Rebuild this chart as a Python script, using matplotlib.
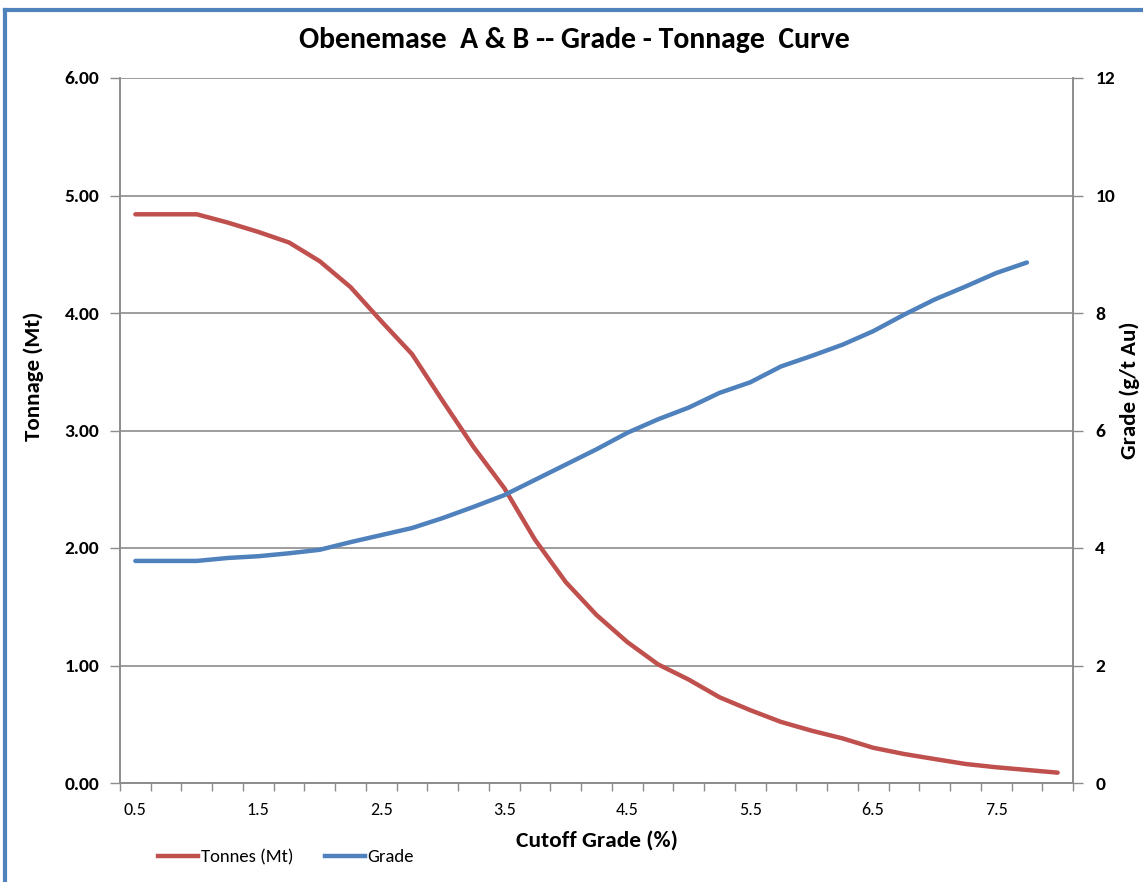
import numpy as np
import matplotlib

matplotlib.use('Agg')
import matplotlib.pyplot as plt
from matplotlib.lines import Line2D

plt.rcParams['font.family'] = ['Carlito', 'DejaVu Sans']

# ================= data =================
cutoff = [0.5, 0.75, 1.0, 1.25, 1.5, 1.75, 2.0, 2.25, 2.5, 2.75,
          3.0, 3.25, 3.5, 3.75, 4.0, 4.25, 4.5, 4.75, 5.0, 5.25,
          5.5, 5.75, 6.0, 6.25, 6.5, 6.75, 7.0, 7.25, 7.5, 7.75, 8.0]

tonnes_mt = [4.84, 4.84, 4.84, 4.77, 4.69, 4.60, 4.44, 4.22, 3.93, 3.65,
             3.25, 2.86, 2.51, 2.07, 1.71, 1.43, 1.20, 1.01, 0.88, 0.73,
             0.62, 0.52, 0.445, 0.38, 0.30, 0.247, 0.204, 0.162, 0.134, 0.111, 0.088]

grade_gt = [3.78, 3.78, 3.78, 3.83, 3.86, 3.91, 3.97, 4.10, 4.22, 4.34,
            4.51, 4.70, 4.90, 5.16, 5.42, 5.68, 5.96, 6.19, 6.39, 6.64,
            6.82, 7.09, 7.27, 7.46, 7.69, 7.97, 8.23, 8.45, 8.68, 8.86]

tonnage_ticks = [0, 1, 2, 3, 4, 5, 6]
grade_ticks = [0, 2, 4, 6, 8, 10, 12]
x_labels = ['0.5', '1.5', '2.5', '3.5', '4.5', '5.5', '6.5', '7.5']

RED = '#C0504D'
BLUE = '#4F81BD'
GRID = '#8C8C8C'

fig = plt.figure(figsize=(11.43, 8.82), dpi=100)
W, H = 1143, 882
ax = fig.add_axes([120 / W, 1 - 783 / H, (1073 - 120) / W, (783 - 78) / H])
ax2 = ax.twinx()

# category axis: one slot per cutoff value
idx = np.arange(len(cutoff))
ax.plot(idx, tonnes_mt, color=RED, lw=3.2, solid_capstyle='round', zorder=3)
ax2.plot(idx[:len(grade_gt)], grade_gt, color=BLUE, lw=3.2, solid_capstyle='round', zorder=3)

ax.set_xlim(-0.5, len(cutoff) - 0.5)
ax.set_ylim(0, 6)
ax2.set_ylim(0, 12)

ax.set_yticks(tonnage_ticks)
ax.set_yticklabels([f'{v:.2f}' for v in tonnage_ticks], fontsize=14, fontweight='bold')
ax2.set_yticks(grade_ticks)
ax2.set_yticklabels([str(v) for v in grade_ticks], fontsize=14, fontweight='bold')

ax.set_xticks(np.arange(-0.5, len(cutoff), 1.0), minor=False)
ax.set_xticklabels([])
ax.set_xticks([cutoff.index(float(s)) for s in x_labels], minor=True)
ax.set_xticklabels(x_labels, minor=True, fontsize=13)
ax.tick_params(axis='x', which='major', length=6, width=1, color=GRID, direction='out')
ax.tick_params(axis='x', which='minor', length=0, pad=14)
ax.tick_params(axis='y', length=7, width=1, color=GRID, pad=8)
ax2.tick_params(axis='y', length=7, width=1, color=GRID, pad=9)

ax.grid(axis='y', color=GRID, lw=1.2)
ax.set_axisbelow(True)
for a in (ax, ax2):
    a.spines['top'].set_visible(False)
    for s in ('left', 'right', 'bottom'):
        a.spines[s].set_color(GRID)
        a.spines[s].set_linewidth(1.2)

ax.set_xlabel('Cutoff Grade (%)', fontsize=16.8, fontweight='bold', labelpad=9)
ax.set_ylabel('Tonnage (Mt)', fontsize=16.5, fontweight='bold')
ax2.set_ylabel('Grade (g/t Au)', fontsize=16.5, fontweight='bold')
ax.yaxis.set_label_coords((44 - 120) / 953, (783 - 376) / 705)
ax2.yaxis.set_label_coords((1119 - 120) / 953, (783 - 390) / 705)

fig.text(574 / W, 1 - 40 / H, 'Obenemase  A & B -- Grade - Tonnage  Curve',
         ha='center', va='center', fontsize=21.4, fontweight='bold')

handles = [Line2D([], [], color=RED, lw=3.2), Line2D([], [], color=BLUE, lw=3.2)]
fig.legend(handles, ['Tonnes (Mt)', 'Grade'], loc='center left',
           bbox_to_anchor=(141 / W, 1 - 857 / H), ncol=2, frameon=False,
           fontsize=13.4, handlelength=2.15, handletextpad=0.15, columnspacing=1.7)

# chart frame border (top and left edges)
fig.add_artist(Line2D([5 / W, 1], [1 - 10 / H, 1 - 10 / H], color=BLUE, lw=3,
                      transform=fig.transFigure))
fig.add_artist(Line2D([5 / W, 5 / W], [0, 1 - 10 / H], color=BLUE, lw=3,
                      transform=fig.transFigure))

fig.savefig('out.png', dpi=100)
